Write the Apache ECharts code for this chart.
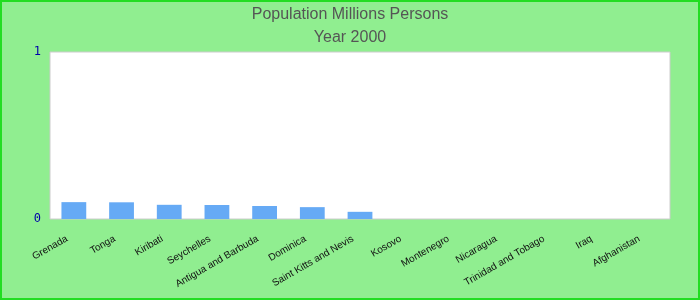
<!DOCTYPE html>
<html><head><meta charset="utf-8">
<script src="https://cdn.jsdelivr.net/npm/echarts@6/dist/echarts.min.js"></script>
<style>html,body{margin:0;padding:0;}#c{width:700px;height:300px;box-sizing:border-box;border:2px solid #22dd22;background:#90ee90;}</style>
</head><body><div id="c"></div>
<script>
var categories = ["Grenada","Tonga","Kiribati","Seychelles","Antigua and Barbuda","Dominica","Saint Kitts and Nevis","Kosovo","Montenegro","Nicaragua","Trinidad and Tobago","Iraq","Afghanistan"];
var values = [0.101, 0.100, 0.085, 0.084, 0.078, 0.071, 0.043, null, null, null, null, null, null];
var yTicks = [0, 1];
var chart = echarts.init(document.getElementById('c'), null, {renderer:'canvas'});
chart.setOption({
  backgroundColor: 'transparent',
  animation: false,
  title: [
    {text: 'Population Millions Persons', left: 'center', top: 0, textStyle: {fontFamily: 'Liberation Sans', fontWeight: 'normal', fontSize: 16, color: '#555'}},
    {text: 'Year 2000', left: 'center', top: 23, textStyle: {fontFamily: 'Liberation Sans', fontWeight: 'normal', fontSize: 16, color: '#555'}}
  ],
  grid: {left: 48, right: 28, top: 50, bottom: 79, show: true, backgroundColor: '#fff', borderColor: '#ccc', borderWidth: 1},
  xAxis: {
    type: 'category', data: categories,
    axisLine: {show: false}, axisTick: {show: false},
    axisLabel: {rotate: 30, interval: 0, fontFamily: 'Liberation Sans', fontSize: 10, color: '#111', margin: 15, padding: [0, 8, 0, 0]}
  },
  yAxis: {
    type: 'value', min: yTicks[0], max: yTicks[1], interval: 1,
    splitLine: {show: false}, axisLine: {show: false}, axisTick: {show: false},
    axisLabel: {fontFamily: 'DejaVu Sans Mono', fontSize: 12, color: '#0000aa', margin: 9}
  },
  series: [{type: 'bar', data: values, barWidth: '52%', itemStyle: {color: '#66aaf5'}}]
});
</script></body></html>
